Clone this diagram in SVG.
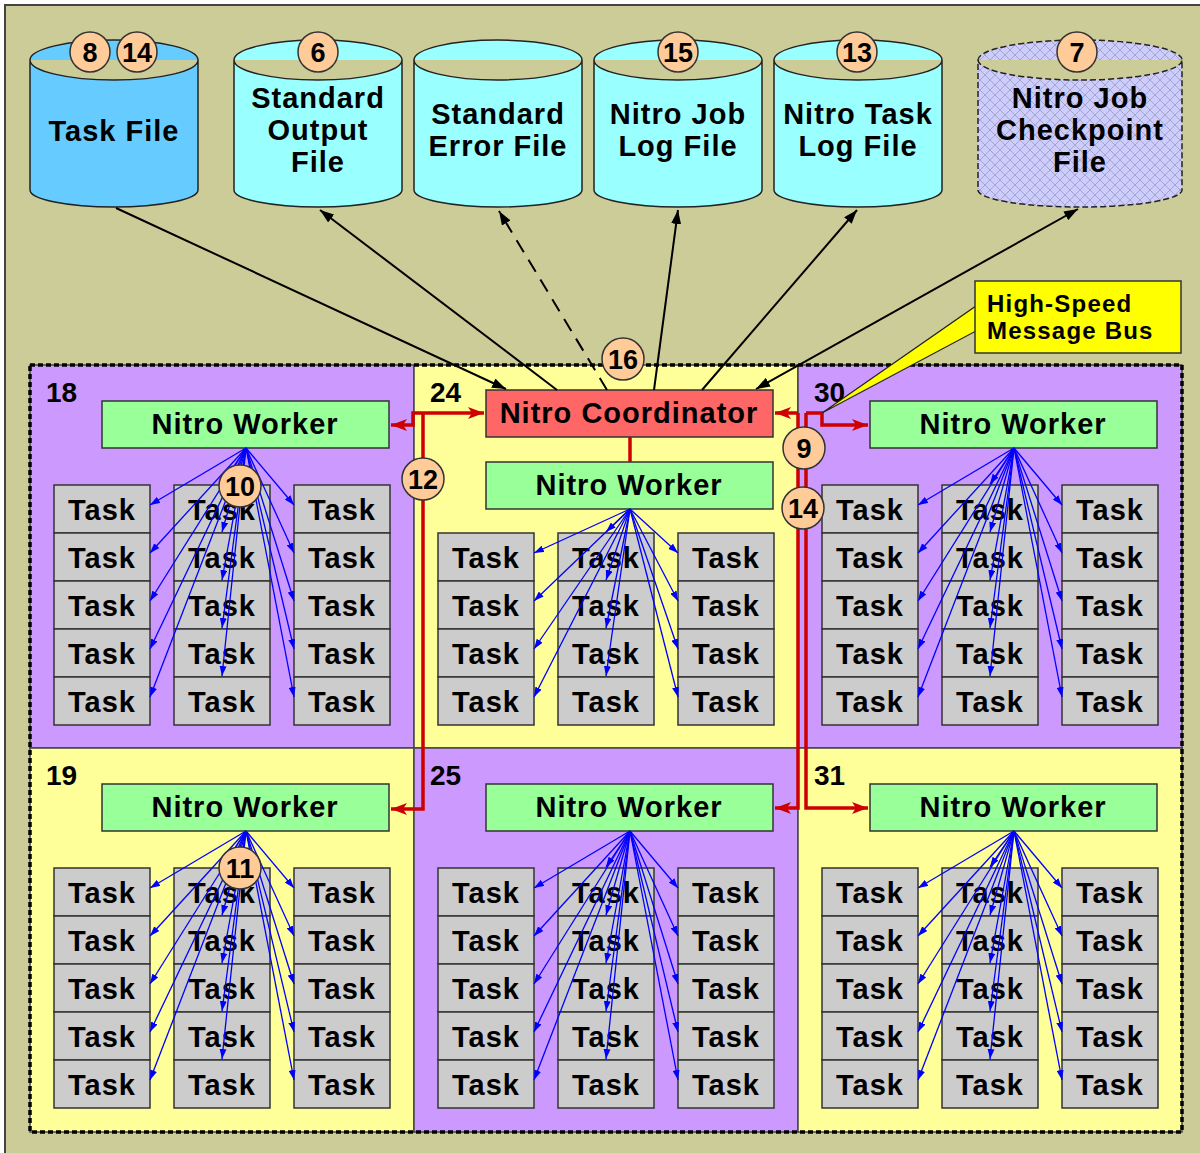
<svg xmlns="http://www.w3.org/2000/svg" width="1200" height="1153" viewBox="0 0 1200 1153">
<defs>
<style>
text{font-family:"Liberation Sans",Arial,sans-serif;font-weight:bold;fill:#000}
.lbl{font-size:29px;letter-spacing:1px;text-anchor:middle}
.cl{font-size:28px}
.cyl{stroke:#222;stroke-width:1.5}
.task rect{fill:#cccccc;stroke:#333;stroke-width:1.5}
.task text{font-size:29px;letter-spacing:1px;text-anchor:middle}
.wk{fill:#99ff99;stroke:#333;stroke-width:1.5}
.b{stroke:#0000ff;stroke-width:1.3;fill:none;marker-end:url(#ablue)}
.k{stroke:#000;stroke-width:2;fill:none}
.r{stroke:#cc0000;stroke-width:3.5;fill:none}
.badge circle{fill:#ffcc99;stroke:#333;stroke-width:1.5}
.badge text{font-size:27px;text-anchor:middle}
</style>
<marker id="ak" viewBox="0 0 14 10" refX="14" refY="5" markerWidth="14" markerHeight="10" markerUnits="userSpaceOnUse" orient="auto-start-reverse"><path d="M0,0 L14,5 L0,10 z" fill="#000"/></marker>
<marker id="ar" viewBox="0 0 16 12" refX="16" refY="6" markerWidth="16" markerHeight="12" markerUnits="userSpaceOnUse" orient="auto"><path d="M0,0 L16,6 L0,12 L4,6 z" fill="#cc0000"/></marker>
<marker id="ablue" viewBox="0 0 10 7" refX="10" refY="3.5" markerWidth="10" markerHeight="7" markerUnits="userSpaceOnUse" orient="auto"><path d="M0,0 L10,3.5 L0,7 z" fill="#0000ff"/></marker>
<pattern id="hatch" width="10" height="10" patternUnits="userSpaceOnUse"><rect width="10" height="10" fill="#ccccff"/><path d="M0,0 L10,10 M10,0 L0,10" stroke="#9a9ab8" stroke-width="0.8"/></pattern>
</defs>
<rect width="1200" height="1153" fill="#ffffff"/>
<rect x="5" y="5" width="1220" height="1170" fill="#cccc99" stroke="#444" stroke-width="2"/>

<g id="cells">
<rect id="cell18" x="30" y="365" width="384" height="383" fill="#cc99ff" stroke="#444" stroke-width="1.5"/>
<rect id="cell24" x="414" y="365" width="384" height="383" fill="#ffff99" stroke="#444" stroke-width="1.5"/>
<rect id="cell30" x="798" y="365" width="384" height="383" fill="#cc99ff" stroke="#444" stroke-width="1.5"/>
<rect id="cell19" x="30" y="748" width="384" height="384" fill="#ffff99" stroke="#444" stroke-width="1.5"/>
<rect id="cell25" x="414" y="748" width="384" height="384" fill="#cc99ff" stroke="#444" stroke-width="1.5"/>
<rect id="cell31" x="798" y="748" width="384" height="384" fill="#ffff99" stroke="#444" stroke-width="1.5"/>
<rect x="30" y="365" width="1152" height="767" fill="none" stroke="#000" stroke-width="3.5" stroke-dasharray="5,3"/>
<text class="cl" x="46" y="402">18</text>
<text class="cl" x="430" y="402">24</text>
<text class="cl" x="814" y="402">30</text>
<text class="cl" x="46" y="785">19</text>
<text class="cl" x="430" y="785">25</text>
<text class="cl" x="814" y="785">31</text>
</g>

<g id="taskfile"><path class="cyl" fill="#66ccff" d="M30,60 A84,20 0 0 1 198,60 L198,190 A84,17 0 0 1 30,190 Z M30,60 A84,20 0 0 0 198,60"/><text class="lbl" x="114" y="141">Task File</text></g>
<g id="stdout"><path class="cyl" fill="#99ffff" d="M234,60 A84,20 0 0 1 402,60 L402,190 A84,17 0 0 1 234,190 Z M234,60 A84,20 0 0 0 402,60"/><text class="lbl" x="318" y="108">Standard</text><text class="lbl" x="318" y="140">Output</text><text class="lbl" x="318" y="172">File</text></g>
<g id="stderr"><path class="cyl" fill="#99ffff" d="M414,60 A84,20 0 0 1 582,60 L582,190 A84,17 0 0 1 414,190 Z M414,60 A84,20 0 0 0 582,60"/><text class="lbl" x="498" y="124">Standard</text><text class="lbl" x="498" y="156">Error File</text></g>
<g id="joblog"><path class="cyl" fill="#99ffff" d="M594,60 A84,20 0 0 1 762,60 L762,190 A84,17 0 0 1 594,190 Z M594,60 A84,20 0 0 0 762,60"/><text class="lbl" x="678" y="124">Nitro Job</text><text class="lbl" x="678" y="156">Log File</text></g>
<g id="tasklog"><path class="cyl" fill="#99ffff" d="M774,60 A84,20 0 0 1 942,60 L942,190 A84,17 0 0 1 774,190 Z M774,60 A84,20 0 0 0 942,60"/><text class="lbl" x="858" y="124">Nitro Task</text><text class="lbl" x="858" y="156">Log File</text></g>
<g id="checkpoint"><path fill="url(#hatch)" stroke="#222" stroke-width="1.5" stroke-dasharray="6,3" d="M978,60 A102,20 0 0 1 1182,60 L1182,190 A102,17 0 0 1 978,190 Z M978,60 A102,20 0 0 0 1182,60"/><text class="lbl" x="1080" y="108">Nitro Job</text><text class="lbl" x="1080" y="140">Checkpoint</text><text class="lbl" x="1080" y="172">File</text></g>

<g id="coordinator"><rect x="486" y="390" width="287" height="47" fill="#ff6666" stroke="#333" stroke-width="1.5"/><text class="lbl" x="629" y="423">Nitro Coordinator</text></g>
<g id="worker18"><rect class="wk" x="102" y="401" width="287" height="47"/><text class="lbl" x="245" y="434">Nitro Worker</text></g>
<g id="worker24"><rect class="wk" x="486" y="462" width="287" height="47"/><text class="lbl" x="629" y="495">Nitro Worker</text></g>
<g id="worker30"><rect class="wk" x="870" y="401" width="287" height="47"/><text class="lbl" x="1013" y="434">Nitro Worker</text></g>
<g id="worker19"><rect class="wk" x="102" y="784" width="287" height="47"/><text class="lbl" x="245" y="817">Nitro Worker</text></g>
<g id="worker25"><rect class="wk" x="486" y="784" width="287" height="47"/><text class="lbl" x="629" y="817">Nitro Worker</text></g>
<g id="worker31"><rect class="wk" x="870" y="784" width="287" height="47"/><text class="lbl" x="1013" y="817">Nitro Worker</text></g>

<g id="tasks18">
<g class="task" id="t18a1"><rect x="54" y="485" width="96" height="48"/><text x="102" y="520">Task</text></g>
<g class="task" id="t18a2"><rect x="54" y="533" width="96" height="48"/><text x="102" y="568">Task</text></g>
<g class="task" id="t18a3"><rect x="54" y="581" width="96" height="48"/><text x="102" y="616">Task</text></g>
<g class="task" id="t18a4"><rect x="54" y="629" width="96" height="48"/><text x="102" y="664">Task</text></g>
<g class="task" id="t18a5"><rect x="54" y="677" width="96" height="48"/><text x="102" y="712">Task</text></g>
<g class="task" id="t18b1"><rect x="174" y="485" width="96" height="48"/><text x="222" y="520">Task</text></g>
<g class="task" id="t18b2"><rect x="174" y="533" width="96" height="48"/><text x="222" y="568">Task</text></g>
<g class="task" id="t18b3"><rect x="174" y="581" width="96" height="48"/><text x="222" y="616">Task</text></g>
<g class="task" id="t18b4"><rect x="174" y="629" width="96" height="48"/><text x="222" y="664">Task</text></g>
<g class="task" id="t18b5"><rect x="174" y="677" width="96" height="48"/><text x="222" y="712">Task</text></g>
<g class="task" id="t18c1"><rect x="294" y="485" width="96" height="48"/><text x="342" y="520">Task</text></g>
<g class="task" id="t18c2"><rect x="294" y="533" width="96" height="48"/><text x="342" y="568">Task</text></g>
<g class="task" id="t18c3"><rect x="294" y="581" width="96" height="48"/><text x="342" y="616">Task</text></g>
<g class="task" id="t18c4"><rect x="294" y="629" width="96" height="48"/><text x="342" y="664">Task</text></g>
<g class="task" id="t18c5"><rect x="294" y="677" width="96" height="48"/><text x="342" y="712">Task</text></g>
</g>
<g id="tasks24">
<g class="task" id="t24a1"><rect x="438" y="533" width="96" height="48"/><text x="486" y="568">Task</text></g>
<g class="task" id="t24a2"><rect x="438" y="581" width="96" height="48"/><text x="486" y="616">Task</text></g>
<g class="task" id="t24a3"><rect x="438" y="629" width="96" height="48"/><text x="486" y="664">Task</text></g>
<g class="task" id="t24a4"><rect x="438" y="677" width="96" height="48"/><text x="486" y="712">Task</text></g>
<g class="task" id="t24b1"><rect x="558" y="533" width="96" height="48"/><text x="606" y="568">Task</text></g>
<g class="task" id="t24b2"><rect x="558" y="581" width="96" height="48"/><text x="606" y="616">Task</text></g>
<g class="task" id="t24b3"><rect x="558" y="629" width="96" height="48"/><text x="606" y="664">Task</text></g>
<g class="task" id="t24b4"><rect x="558" y="677" width="96" height="48"/><text x="606" y="712">Task</text></g>
<g class="task" id="t24c1"><rect x="678" y="533" width="96" height="48"/><text x="726" y="568">Task</text></g>
<g class="task" id="t24c2"><rect x="678" y="581" width="96" height="48"/><text x="726" y="616">Task</text></g>
<g class="task" id="t24c3"><rect x="678" y="629" width="96" height="48"/><text x="726" y="664">Task</text></g>
<g class="task" id="t24c4"><rect x="678" y="677" width="96" height="48"/><text x="726" y="712">Task</text></g>
</g>
<g id="tasks30">
<g class="task" id="t30a1"><rect x="822" y="485" width="96" height="48"/><text x="870" y="520">Task</text></g>
<g class="task" id="t30a2"><rect x="822" y="533" width="96" height="48"/><text x="870" y="568">Task</text></g>
<g class="task" id="t30a3"><rect x="822" y="581" width="96" height="48"/><text x="870" y="616">Task</text></g>
<g class="task" id="t30a4"><rect x="822" y="629" width="96" height="48"/><text x="870" y="664">Task</text></g>
<g class="task" id="t30a5"><rect x="822" y="677" width="96" height="48"/><text x="870" y="712">Task</text></g>
<g class="task" id="t30b1"><rect x="942" y="485" width="96" height="48"/><text x="990" y="520">Task</text></g>
<g class="task" id="t30b2"><rect x="942" y="533" width="96" height="48"/><text x="990" y="568">Task</text></g>
<g class="task" id="t30b3"><rect x="942" y="581" width="96" height="48"/><text x="990" y="616">Task</text></g>
<g class="task" id="t30b4"><rect x="942" y="629" width="96" height="48"/><text x="990" y="664">Task</text></g>
<g class="task" id="t30b5"><rect x="942" y="677" width="96" height="48"/><text x="990" y="712">Task</text></g>
<g class="task" id="t30c1"><rect x="1062" y="485" width="96" height="48"/><text x="1110" y="520">Task</text></g>
<g class="task" id="t30c2"><rect x="1062" y="533" width="96" height="48"/><text x="1110" y="568">Task</text></g>
<g class="task" id="t30c3"><rect x="1062" y="581" width="96" height="48"/><text x="1110" y="616">Task</text></g>
<g class="task" id="t30c4"><rect x="1062" y="629" width="96" height="48"/><text x="1110" y="664">Task</text></g>
<g class="task" id="t30c5"><rect x="1062" y="677" width="96" height="48"/><text x="1110" y="712">Task</text></g>
</g>
<g id="tasks19">
<g class="task" id="t19a1"><rect x="54" y="868" width="96" height="48"/><text x="102" y="903">Task</text></g>
<g class="task" id="t19a2"><rect x="54" y="916" width="96" height="48"/><text x="102" y="951">Task</text></g>
<g class="task" id="t19a3"><rect x="54" y="964" width="96" height="48"/><text x="102" y="999">Task</text></g>
<g class="task" id="t19a4"><rect x="54" y="1012" width="96" height="48"/><text x="102" y="1047">Task</text></g>
<g class="task" id="t19a5"><rect x="54" y="1060" width="96" height="48"/><text x="102" y="1095">Task</text></g>
<g class="task" id="t19b1"><rect x="174" y="868" width="96" height="48"/><text x="222" y="903">Task</text></g>
<g class="task" id="t19b2"><rect x="174" y="916" width="96" height="48"/><text x="222" y="951">Task</text></g>
<g class="task" id="t19b3"><rect x="174" y="964" width="96" height="48"/><text x="222" y="999">Task</text></g>
<g class="task" id="t19b4"><rect x="174" y="1012" width="96" height="48"/><text x="222" y="1047">Task</text></g>
<g class="task" id="t19b5"><rect x="174" y="1060" width="96" height="48"/><text x="222" y="1095">Task</text></g>
<g class="task" id="t19c1"><rect x="294" y="868" width="96" height="48"/><text x="342" y="903">Task</text></g>
<g class="task" id="t19c2"><rect x="294" y="916" width="96" height="48"/><text x="342" y="951">Task</text></g>
<g class="task" id="t19c3"><rect x="294" y="964" width="96" height="48"/><text x="342" y="999">Task</text></g>
<g class="task" id="t19c4"><rect x="294" y="1012" width="96" height="48"/><text x="342" y="1047">Task</text></g>
<g class="task" id="t19c5"><rect x="294" y="1060" width="96" height="48"/><text x="342" y="1095">Task</text></g>
</g>
<g id="tasks25">
<g class="task" id="t25a1"><rect x="438" y="868" width="96" height="48"/><text x="486" y="903">Task</text></g>
<g class="task" id="t25a2"><rect x="438" y="916" width="96" height="48"/><text x="486" y="951">Task</text></g>
<g class="task" id="t25a3"><rect x="438" y="964" width="96" height="48"/><text x="486" y="999">Task</text></g>
<g class="task" id="t25a4"><rect x="438" y="1012" width="96" height="48"/><text x="486" y="1047">Task</text></g>
<g class="task" id="t25a5"><rect x="438" y="1060" width="96" height="48"/><text x="486" y="1095">Task</text></g>
<g class="task" id="t25b1"><rect x="558" y="868" width="96" height="48"/><text x="606" y="903">Task</text></g>
<g class="task" id="t25b2"><rect x="558" y="916" width="96" height="48"/><text x="606" y="951">Task</text></g>
<g class="task" id="t25b3"><rect x="558" y="964" width="96" height="48"/><text x="606" y="999">Task</text></g>
<g class="task" id="t25b4"><rect x="558" y="1012" width="96" height="48"/><text x="606" y="1047">Task</text></g>
<g class="task" id="t25b5"><rect x="558" y="1060" width="96" height="48"/><text x="606" y="1095">Task</text></g>
<g class="task" id="t25c1"><rect x="678" y="868" width="96" height="48"/><text x="726" y="903">Task</text></g>
<g class="task" id="t25c2"><rect x="678" y="916" width="96" height="48"/><text x="726" y="951">Task</text></g>
<g class="task" id="t25c3"><rect x="678" y="964" width="96" height="48"/><text x="726" y="999">Task</text></g>
<g class="task" id="t25c4"><rect x="678" y="1012" width="96" height="48"/><text x="726" y="1047">Task</text></g>
<g class="task" id="t25c5"><rect x="678" y="1060" width="96" height="48"/><text x="726" y="1095">Task</text></g>
</g>
<g id="tasks31">
<g class="task" id="t31a1"><rect x="822" y="868" width="96" height="48"/><text x="870" y="903">Task</text></g>
<g class="task" id="t31a2"><rect x="822" y="916" width="96" height="48"/><text x="870" y="951">Task</text></g>
<g class="task" id="t31a3"><rect x="822" y="964" width="96" height="48"/><text x="870" y="999">Task</text></g>
<g class="task" id="t31a4"><rect x="822" y="1012" width="96" height="48"/><text x="870" y="1047">Task</text></g>
<g class="task" id="t31a5"><rect x="822" y="1060" width="96" height="48"/><text x="870" y="1095">Task</text></g>
<g class="task" id="t31b1"><rect x="942" y="868" width="96" height="48"/><text x="990" y="903">Task</text></g>
<g class="task" id="t31b2"><rect x="942" y="916" width="96" height="48"/><text x="990" y="951">Task</text></g>
<g class="task" id="t31b3"><rect x="942" y="964" width="96" height="48"/><text x="990" y="999">Task</text></g>
<g class="task" id="t31b4"><rect x="942" y="1012" width="96" height="48"/><text x="990" y="1047">Task</text></g>
<g class="task" id="t31b5"><rect x="942" y="1060" width="96" height="48"/><text x="990" y="1095">Task</text></g>
<g class="task" id="t31c1"><rect x="1062" y="868" width="96" height="48"/><text x="1110" y="903">Task</text></g>
<g class="task" id="t31c2"><rect x="1062" y="916" width="96" height="48"/><text x="1110" y="951">Task</text></g>
<g class="task" id="t31c3"><rect x="1062" y="964" width="96" height="48"/><text x="1110" y="999">Task</text></g>
<g class="task" id="t31c4"><rect x="1062" y="1012" width="96" height="48"/><text x="1110" y="1047">Task</text></g>
<g class="task" id="t31c5"><rect x="1062" y="1060" width="96" height="48"/><text x="1110" y="1095">Task</text></g>
</g>

<g id="connectors">
<line class="k" x1="116" y1="208" x2="506" y2="389" marker-end="url(#ak)"/>
<line class="k" x1="557" y1="390" x2="320" y2="210" marker-end="url(#ak)"/>
<line class="k" x1="607" y1="390" x2="499" y2="211" stroke-dasharray="14,9" marker-end="url(#ak)"/>
<line class="k" x1="654" y1="390" x2="678" y2="210" marker-end="url(#ak)"/>
<line class="k" x1="702" y1="390" x2="857" y2="210" marker-end="url(#ak)"/>
<line class="k" x1="756" y1="389" x2="1078" y2="209" marker-start="url(#ak)" marker-end="url(#ak)"/>

<path class="r" d="M630,437 V462"/>
<path class="r" d="M423,413 H484" marker-end="url(#ar)"/>
<path class="r" d="M423,413 H413 V425 H391" marker-end="url(#ar)"/>
<path class="r" d="M423,413 V809 H391" marker-end="url(#ar)"/>
<path class="r" d="M798,413 H775" marker-end="url(#ar)"/>
<path class="r" d="M798,413 V808 H775" marker-end="url(#ar)"/>
<path class="r" d="M806,413 V808 H868" marker-end="url(#ar)"/>
<path class="r" d="M806,413 H822 V425 H868" marker-end="url(#ar)"/>

<g id="fan18">
<line class="b" x1="246" y1="448" x2="150" y2="505"/><line class="b" x1="246" y1="448" x2="150" y2="553"/><line class="b" x1="246" y1="448" x2="150" y2="601"/><line class="b" x1="246" y1="448" x2="150" y2="649"/><line class="b" x1="246" y1="448" x2="150" y2="697"/>
<line class="b" x1="246" y1="448" x2="222" y2="484"/><line class="b" x1="246" y1="448" x2="222" y2="532"/><line class="b" x1="246" y1="448" x2="222" y2="580"/><line class="b" x1="246" y1="448" x2="222" y2="628"/><line class="b" x1="246" y1="448" x2="222" y2="676"/>
<line class="b" x1="246" y1="448" x2="294" y2="505"/><line class="b" x1="246" y1="448" x2="294" y2="553"/><line class="b" x1="246" y1="448" x2="294" y2="601"/><line class="b" x1="246" y1="448" x2="294" y2="649"/><line class="b" x1="246" y1="448" x2="294" y2="697"/>
</g>
<g id="fan24">
<line class="b" x1="630" y1="509" x2="534" y2="553"/><line class="b" x1="630" y1="509" x2="534" y2="601"/><line class="b" x1="630" y1="509" x2="534" y2="649"/><line class="b" x1="630" y1="509" x2="534" y2="697"/>
<line class="b" x1="630" y1="509" x2="606" y2="532"/><line class="b" x1="630" y1="509" x2="606" y2="580"/><line class="b" x1="630" y1="509" x2="606" y2="628"/><line class="b" x1="630" y1="509" x2="606" y2="676"/>
<line class="b" x1="630" y1="509" x2="678" y2="553"/><line class="b" x1="630" y1="509" x2="678" y2="601"/><line class="b" x1="630" y1="509" x2="678" y2="649"/><line class="b" x1="630" y1="509" x2="678" y2="697"/>
</g>
<g id="fan30">
<line class="b" x1="1014" y1="448" x2="918" y2="505"/><line class="b" x1="1014" y1="448" x2="918" y2="553"/><line class="b" x1="1014" y1="448" x2="918" y2="601"/><line class="b" x1="1014" y1="448" x2="918" y2="649"/><line class="b" x1="1014" y1="448" x2="918" y2="697"/>
<line class="b" x1="1014" y1="448" x2="990" y2="484"/><line class="b" x1="1014" y1="448" x2="990" y2="532"/><line class="b" x1="1014" y1="448" x2="990" y2="580"/><line class="b" x1="1014" y1="448" x2="990" y2="628"/><line class="b" x1="1014" y1="448" x2="990" y2="676"/>
<line class="b" x1="1014" y1="448" x2="1062" y2="505"/><line class="b" x1="1014" y1="448" x2="1062" y2="553"/><line class="b" x1="1014" y1="448" x2="1062" y2="601"/><line class="b" x1="1014" y1="448" x2="1062" y2="649"/><line class="b" x1="1014" y1="448" x2="1062" y2="697"/>
</g>
<g id="fan19">
<line class="b" x1="246" y1="831" x2="150" y2="888"/><line class="b" x1="246" y1="831" x2="150" y2="936"/><line class="b" x1="246" y1="831" x2="150" y2="984"/><line class="b" x1="246" y1="831" x2="150" y2="1032"/><line class="b" x1="246" y1="831" x2="150" y2="1080"/>
<line class="b" x1="246" y1="831" x2="222" y2="867"/><line class="b" x1="246" y1="831" x2="222" y2="915"/><line class="b" x1="246" y1="831" x2="222" y2="963"/><line class="b" x1="246" y1="831" x2="222" y2="1011"/><line class="b" x1="246" y1="831" x2="222" y2="1059"/>
<line class="b" x1="246" y1="831" x2="294" y2="888"/><line class="b" x1="246" y1="831" x2="294" y2="936"/><line class="b" x1="246" y1="831" x2="294" y2="984"/><line class="b" x1="246" y1="831" x2="294" y2="1032"/><line class="b" x1="246" y1="831" x2="294" y2="1080"/>
</g>
<g id="fan25">
<line class="b" x1="630" y1="831" x2="534" y2="888"/><line class="b" x1="630" y1="831" x2="534" y2="936"/><line class="b" x1="630" y1="831" x2="534" y2="984"/><line class="b" x1="630" y1="831" x2="534" y2="1032"/><line class="b" x1="630" y1="831" x2="534" y2="1080"/>
<line class="b" x1="630" y1="831" x2="606" y2="867"/><line class="b" x1="630" y1="831" x2="606" y2="915"/><line class="b" x1="630" y1="831" x2="606" y2="963"/><line class="b" x1="630" y1="831" x2="606" y2="1011"/><line class="b" x1="630" y1="831" x2="606" y2="1059"/>
<line class="b" x1="630" y1="831" x2="678" y2="888"/><line class="b" x1="630" y1="831" x2="678" y2="936"/><line class="b" x1="630" y1="831" x2="678" y2="984"/><line class="b" x1="630" y1="831" x2="678" y2="1032"/><line class="b" x1="630" y1="831" x2="678" y2="1080"/>
</g>
<g id="fan31">
<line class="b" x1="1014" y1="831" x2="918" y2="888"/><line class="b" x1="1014" y1="831" x2="918" y2="936"/><line class="b" x1="1014" y1="831" x2="918" y2="984"/><line class="b" x1="1014" y1="831" x2="918" y2="1032"/><line class="b" x1="1014" y1="831" x2="918" y2="1080"/>
<line class="b" x1="1014" y1="831" x2="990" y2="867"/><line class="b" x1="1014" y1="831" x2="990" y2="915"/><line class="b" x1="1014" y1="831" x2="990" y2="963"/><line class="b" x1="1014" y1="831" x2="990" y2="1011"/><line class="b" x1="1014" y1="831" x2="990" y2="1059"/>
<line class="b" x1="1014" y1="831" x2="1062" y2="888"/><line class="b" x1="1014" y1="831" x2="1062" y2="936"/><line class="b" x1="1014" y1="831" x2="1062" y2="984"/><line class="b" x1="1014" y1="831" x2="1062" y2="1032"/><line class="b" x1="1014" y1="831" x2="1062" y2="1080"/>
</g>
</g>

<g id="callout">
<polygon points="822,413 976,306 976,331" fill="#ffff00" stroke="#222" stroke-width="1.2"/>
<rect x="975" y="281" width="206" height="72" fill="#ffff00" stroke="#333" stroke-width="1.5"/>
<text x="987" y="312" font-size="24" letter-spacing="1.2">High-Speed</text>
<text x="987" y="339" font-size="24" letter-spacing="1.2">Message Bus</text>
</g>

<g id="badges">
<g class="badge" id="b8"><circle cx="90" cy="52" r="20"/><text x="90" y="62">8</text></g>
<g class="badge" id="b14a"><circle cx="137" cy="52" r="20"/><text x="137" y="62">14</text></g>
<g class="badge" id="b6"><circle cx="318" cy="52" r="20"/><text x="318" y="62">6</text></g>
<g class="badge" id="b15"><circle cx="678" cy="52" r="20"/><text x="678" y="62">15</text></g>
<g class="badge" id="b13"><circle cx="857" cy="52" r="20"/><text x="857" y="62">13</text></g>
<g class="badge" id="b7"><circle cx="1077" cy="52" r="20"/><text x="1077" y="62">7</text></g>
<g class="badge" id="b16"><circle cx="623" cy="359" r="21"/><text x="623" y="369">16</text></g>
<g class="badge" id="b10"><circle cx="240" cy="486" r="21"/><text x="240" y="496">10</text></g>
<g class="badge" id="b12"><circle cx="423" cy="479" r="21"/><text x="423" y="489">12</text></g>
<g class="badge" id="b9"><circle cx="804" cy="448" r="21"/><text x="804" y="458">9</text></g>
<g class="badge" id="b14b"><circle cx="803" cy="508" r="21"/><text x="803" y="518">14</text></g>
<g class="badge" id="b11"><circle cx="240" cy="868" r="21"/><text x="240" y="878">11</text></g>
</g>
</svg>
